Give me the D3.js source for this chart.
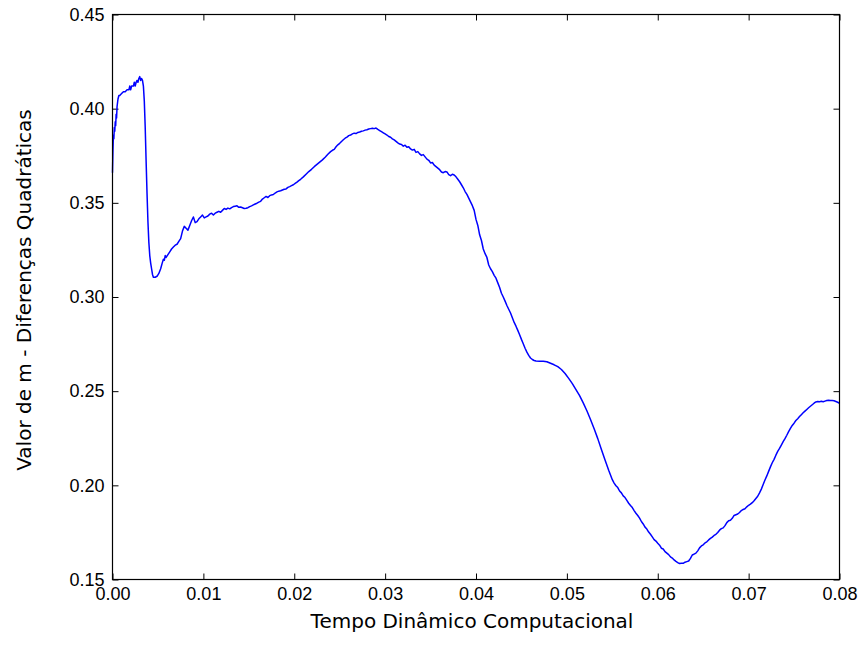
<!DOCTYPE html>
<html>
<head>
<meta charset="utf-8">
<script src="https://cdn.jsdelivr.net/npm/d3@7"></script>
<style>
  body { margin: 0; background: #fff; }
  svg { font-family: "DejaVu Sans", sans-serif; }
  .tick text { font-size: 18px; fill: #000; }
  .tick line { stroke: #000; stroke-width: 1; }
  .axis-label { font-size: 20px; fill: #000; }
</style>
</head>
<body>
<div class="chart"></div>
<script>
var width = 859, height = 648;
var margin = {top: 14.5, right: 19.5, bottom: 68.5, left: 112.5};

// eixo x: tempo, eixo y: valor de m
var x_ticks = [0, 0.01, 0.02, 0.03, 0.04, 0.05, 0.06, 0.07, 0.08];
var y_ticks = [0.15, 0.20, 0.25, 0.30, 0.35, 0.40, 0.45];

var x_label = "Tempo Dinâmico Computacional";
var y_label = "Valor de m - Diferenças Quadráticas";

// pontos: [tempo, valor]
var curva = [
  [0.0000, 0.366], [0.00005, 0.378], [0.0001, 0.386], [0.00015, 0.384], [0.0002, 0.390],
  [0.00025, 0.388], [0.0003, 0.393], [0.00035, 0.391], [0.0004, 0.397], [0.00045, 0.395],
  [0.0005, 0.401], [0.0006, 0.405], [0.0007, 0.407], [0.0008, 0.407], [0.0010, 0.408],
  [0.0012, 0.409], [0.0014, 0.409], [0.0016, 0.410], [0.0018, 0.410], [0.0019, 0.412],
  [0.0020, 0.410], [0.0021, 0.412], [0.0023, 0.412], [0.0024, 0.414], [0.0025, 0.412],
  [0.0026, 0.414], [0.0027, 0.415], [0.0028, 0.414], [0.0029, 0.416], [0.0030, 0.417],
  [0.0031, 0.415], [0.0032, 0.416], [0.0033, 0.415], [0.0034, 0.412], [0.0035, 0.404],
  [0.0036, 0.390], [0.0037, 0.372], [0.0038, 0.355], [0.0039, 0.340], [0.0040, 0.329],
  [0.0041, 0.322], [0.0042, 0.318], [0.0043, 0.315], [0.0044, 0.312], [0.0045, 0.3105],
  [0.0047, 0.3105], [0.0049, 0.311], [0.0051, 0.3125], [0.0053, 0.315], [0.0055, 0.3185],
  [0.0056, 0.320], [0.0057, 0.3195], [0.0058, 0.322], [0.0059, 0.321], [0.0061, 0.3225],
  [0.0063, 0.324], [0.0065, 0.3255], [0.0067, 0.3265], [0.0069, 0.3275], [0.0071, 0.328],
  [0.0073, 0.3295], [0.0075, 0.331], [0.0077, 0.335], [0.0079, 0.3375], [0.0081, 0.3365],
  [0.0083, 0.3355], [0.0085, 0.338], [0.0087, 0.3405], [0.0089, 0.3425], [0.0091, 0.3395],
  [0.0093, 0.340], [0.0095, 0.3415], [0.0097, 0.3425], [0.0099, 0.3435], [0.0101, 0.3420],
  [0.0103, 0.3425], [0.0105, 0.3430], [0.0107, 0.3440], [0.0109, 0.3445], [0.0111, 0.3435],
  [0.0113, 0.3445], [0.0115, 0.3450], [0.0117, 0.3455], [0.0119, 0.3450], [0.0121, 0.3460],
  [0.0123, 0.3470], [0.0125, 0.3465], [0.0127, 0.3472], [0.0129, 0.3468], [0.0131, 0.3475],
  [0.0133, 0.3480], [0.0135, 0.3482], [0.0137, 0.3484], [0.0139, 0.3476], [0.0141, 0.3478],
  [0.0143, 0.3474], [0.0145, 0.3470], [0.0147, 0.3471], [0.0149, 0.3474], [0.0151, 0.3480],
  [0.0153, 0.3484], [0.0155, 0.3489], [0.0157, 0.3494], [0.0159, 0.3498], [0.0161, 0.3504],
  [0.0163, 0.3508], [0.0165, 0.3520], [0.0167, 0.3527], [0.0169, 0.3534], [0.0171, 0.3528],
  [0.0173, 0.3538], [0.0175, 0.3542], [0.0177, 0.3544], [0.0179, 0.3552], [0.0181, 0.3558],
  [0.0183, 0.3562], [0.0185, 0.3564], [0.0187, 0.3568], [0.0189, 0.3572], [0.0191, 0.3574],
  [0.0193, 0.3582], [0.0195, 0.3586], [0.0197, 0.3591], [0.0199, 0.3596], [0.0201, 0.3603],
  [0.0203, 0.3610], [0.0205, 0.3618], [0.0207, 0.3625], [0.0210, 0.3638], [0.0213, 0.3652],
  [0.0216, 0.3666], [0.0219, 0.3678], [0.0222, 0.3692], [0.0225, 0.3704], [0.0228, 0.3716],
  [0.0231, 0.3728], [0.0234, 0.3742], [0.0237, 0.3758], [0.0240, 0.3772], [0.0242, 0.3779],
  [0.0244, 0.3784], [0.0246, 0.3798], [0.0248, 0.3808], [0.0250, 0.3816], [0.0252, 0.3826],
  [0.0254, 0.3835], [0.0256, 0.3843], [0.0258, 0.3849], [0.0260, 0.3857], [0.0262, 0.3860],
  [0.0264, 0.3866], [0.0266, 0.3870], [0.0268, 0.3868], [0.0270, 0.3874], [0.0272, 0.3876],
  [0.0274, 0.3880], [0.0276, 0.3882], [0.0278, 0.3886], [0.0280, 0.3888], [0.0282, 0.3892],
  [0.0284, 0.3894], [0.0286, 0.3896], [0.0288, 0.3894], [0.0290, 0.3897], [0.0292, 0.3890],
  [0.0294, 0.3884], [0.0296, 0.3878], [0.0298, 0.3872], [0.0300, 0.3866], [0.0302, 0.3860],
  [0.0304, 0.3852], [0.0306, 0.3848], [0.0308, 0.3840], [0.0310, 0.3834], [0.0312, 0.3826],
  [0.0314, 0.3818], [0.0316, 0.3812], [0.0318, 0.3810], [0.0320, 0.3801], [0.0322, 0.3806],
  [0.0324, 0.3795], [0.0326, 0.3798], [0.0328, 0.3786], [0.0330, 0.3780], [0.0332, 0.3784],
  [0.0334, 0.3768], [0.0336, 0.3772], [0.0338, 0.3760], [0.0340, 0.3752], [0.0342, 0.3756],
  [0.0344, 0.3744], [0.0346, 0.3732], [0.0348, 0.3726], [0.0350, 0.3712], [0.0352, 0.3714],
  [0.0354, 0.3700], [0.0356, 0.3692], [0.0358, 0.3684], [0.0360, 0.3676], [0.0362, 0.3664],
  [0.0364, 0.3660], [0.0366, 0.3666], [0.0368, 0.3664], [0.0370, 0.3650], [0.0372, 0.3644],
  [0.0374, 0.3652], [0.0376, 0.3648], [0.0378, 0.3638], [0.0380, 0.3625], [0.0382, 0.3612],
  [0.0384, 0.3596], [0.0386, 0.3580], [0.0388, 0.3560], [0.0390, 0.3545], [0.0392, 0.3525],
  [0.0394, 0.3505], [0.0396, 0.3485], [0.0398, 0.3460], [0.0400, 0.3412], [0.0402, 0.3380],
  [0.0404, 0.3330], [0.0406, 0.3300], [0.0408, 0.3255], [0.0410, 0.3230], [0.0412, 0.3210],
  [0.0414, 0.3170], [0.0416, 0.3150], [0.0418, 0.3135], [0.0420, 0.3115], [0.0422, 0.3100],
  [0.0424, 0.3075], [0.0426, 0.3050], [0.0428, 0.3020], [0.0430, 0.3000], [0.0432, 0.2978],
  [0.0434, 0.2955], [0.0436, 0.2935], [0.0438, 0.2915], [0.0440, 0.2890], [0.0442, 0.2865],
  [0.0444, 0.2845], [0.0446, 0.2823], [0.0448, 0.2800], [0.0450, 0.2775], [0.0452, 0.2752],
  [0.0454, 0.2728], [0.0456, 0.2707], [0.0458, 0.2690], [0.0460, 0.2676], [0.0462, 0.2668],
  [0.0464, 0.2663], [0.0466, 0.2660], [0.0470, 0.2659], [0.0474, 0.2659], [0.0478, 0.2656],
  [0.0482, 0.2648], [0.0486, 0.2640], [0.0490, 0.2630], [0.0494, 0.2615], [0.0498, 0.2594],
  [0.0502, 0.2568], [0.0506, 0.2540], [0.0510, 0.2508], [0.0514, 0.2476], [0.0518, 0.2438],
  [0.0522, 0.2396], [0.0526, 0.2350], [0.0530, 0.2300], [0.0534, 0.2248], [0.0538, 0.2190],
  [0.0542, 0.2135], [0.0546, 0.2080], [0.0550, 0.2030], [0.0552, 0.2012], [0.0554, 0.1998],
  [0.0556, 0.1988], [0.0558, 0.1970], [0.0560, 0.1960], [0.0562, 0.1944], [0.0564, 0.1935],
  [0.0566, 0.1920], [0.0568, 0.1905], [0.0570, 0.1893], [0.0572, 0.1882], [0.0574, 0.1866],
  [0.0576, 0.1852], [0.0578, 0.1840], [0.0580, 0.1826], [0.0582, 0.1808], [0.0584, 0.1795],
  [0.0586, 0.1778], [0.0588, 0.1768], [0.0590, 0.1752], [0.0592, 0.1740], [0.0594, 0.1726],
  [0.0596, 0.1712], [0.0598, 0.1704], [0.0600, 0.1692], [0.0602, 0.1682], [0.0604, 0.1666],
  [0.0606, 0.1662], [0.0608, 0.1648], [0.0610, 0.1640], [0.0612, 0.1632], [0.0614, 0.1620],
  [0.0616, 0.1614], [0.0618, 0.1604], [0.0620, 0.1596], [0.0622, 0.1590], [0.0624, 0.1585],
  [0.0626, 0.1586], [0.0628, 0.1586], [0.0630, 0.1592], [0.0632, 0.1595], [0.0634, 0.1598],
  [0.0636, 0.1612], [0.0638, 0.1630], [0.0640, 0.1635], [0.0642, 0.1640], [0.0644, 0.1652],
  [0.0646, 0.1668], [0.0648, 0.1678], [0.0650, 0.1684], [0.0652, 0.1694], [0.0654, 0.1700],
  [0.0656, 0.1710], [0.0658, 0.1718], [0.0660, 0.1725], [0.0662, 0.1734], [0.0664, 0.1740],
  [0.0666, 0.1750], [0.0668, 0.1762], [0.0670, 0.1770], [0.0672, 0.1774], [0.0674, 0.1786],
  [0.0676, 0.1802], [0.0678, 0.1812], [0.0680, 0.1815], [0.0682, 0.1825], [0.0684, 0.1840],
  [0.0686, 0.1844], [0.0688, 0.1848], [0.0690, 0.1856], [0.0692, 0.1866], [0.0694, 0.1872],
  [0.0696, 0.1876], [0.0698, 0.1886], [0.0700, 0.1894], [0.0702, 0.1900], [0.0704, 0.1908],
  [0.0706, 0.1918], [0.0708, 0.1930], [0.0710, 0.1942], [0.0712, 0.1960], [0.0714, 0.1980],
  [0.0716, 0.2004], [0.0718, 0.2028], [0.0720, 0.2050], [0.0722, 0.2074], [0.0724, 0.2098],
  [0.0726, 0.2120], [0.0728, 0.2138], [0.0730, 0.2160], [0.0732, 0.2180], [0.0734, 0.2196],
  [0.0736, 0.2214], [0.0738, 0.2232], [0.0740, 0.2248], [0.0742, 0.2266], [0.0744, 0.2285],
  [0.0746, 0.2302], [0.0748, 0.2318], [0.0750, 0.2330], [0.0752, 0.2344], [0.0754, 0.2354],
  [0.0756, 0.2365], [0.0758, 0.2375], [0.0760, 0.2385], [0.0762, 0.2394], [0.0764, 0.2403],
  [0.0766, 0.2412], [0.0768, 0.2420], [0.0770, 0.2428], [0.0772, 0.2436], [0.0774, 0.2443],
  [0.0776, 0.2445], [0.0778, 0.2444], [0.0780, 0.2446], [0.0782, 0.2444], [0.0784, 0.2447],
  [0.0786, 0.2450], [0.0788, 0.2452], [0.0790, 0.2451], [0.0792, 0.2450], [0.0794, 0.2449],
  [0.0796, 0.2445], [0.0798, 0.2441], [0.0800, 0.2436]
];

var inner_w = width - margin.left - margin.right,
    inner_h = height - margin.top - margin.bottom;

var svg = d3.select(".chart").append("svg")
    .attr("width", width)
    .attr("height", height);

var g = svg.append("g")
    .attr("transform", "translate(" + margin.left + "," + margin.top + ")");

var x = d3.scaleLinear()
    .domain([0, 0.08])
    .range([0, inner_w]);

var y = d3.scaleLinear()
    .domain([0.15, 0.45])
    .range([inner_h, 0]);

var tick_len = 6;

// ticks para dentro nos quatro lados, como no matplotlib classico
g.append("g")
    .attr("class", "axis x-bottom")
    .attr("transform", "translate(0," + inner_h + ")")
    .call(d3.axisBottom(x).tickValues(x_ticks).tickSizeInner(-tick_len).tickSizeOuter(0).tickPadding(8)
      .tickFormat(d3.format(".2f")));

g.append("g")
    .attr("class", "axis x-top")
    .call(d3.axisTop(x).tickValues(x_ticks).tickSizeInner(-tick_len).tickSizeOuter(0).tickFormat(""));

g.append("g")
    .attr("class", "axis y-left")
    .call(d3.axisLeft(y).tickValues(y_ticks).tickSizeInner(-tick_len).tickSizeOuter(0).tickPadding(8)
      .tickFormat(d3.format(".2f")));

g.append("g")
    .attr("class", "axis y-right")
    .attr("transform", "translate(" + inner_w + ",0)")
    .call(d3.axisRight(y).tickValues(y_ticks).tickSizeInner(-tick_len).tickSizeOuter(0).tickFormat(""));

g.selectAll(".axis .domain").remove();

var line = d3.line()
    .x(function(d){ return x(d[0]); })
    .y(function(d){ return y(d[1]); });

g.append("path")
    .datum(curva)
    .attr("d", line)
    .attr("fill", "none")
    .attr("stroke", "#0000ff")
    .attr("stroke-width", 1.5)
    .attr("stroke-linejoin", "round");

// moldura
g.append("rect")
    .attr("width", inner_w)
    .attr("height", inner_h)
    .attr("fill", "none")
    .attr("stroke", "#000")
    .attr("stroke-width", 1.2);

g.append("text")
    .attr("class", "axis-label")
    .attr("x", inner_w / 2 - 4)
    .attr("y", inner_h + 48)
    .style("text-anchor", "middle")
    .text(x_label);

g.append("text")
    .attr("class", "axis-label")
    .attr("transform", "translate(" + (-margin.left + 31) + "," + (inner_h / 2 - 7) + ") rotate(-90)")
    .style("text-anchor", "middle")
    .text(y_label);
</script>
</body>
</html>
